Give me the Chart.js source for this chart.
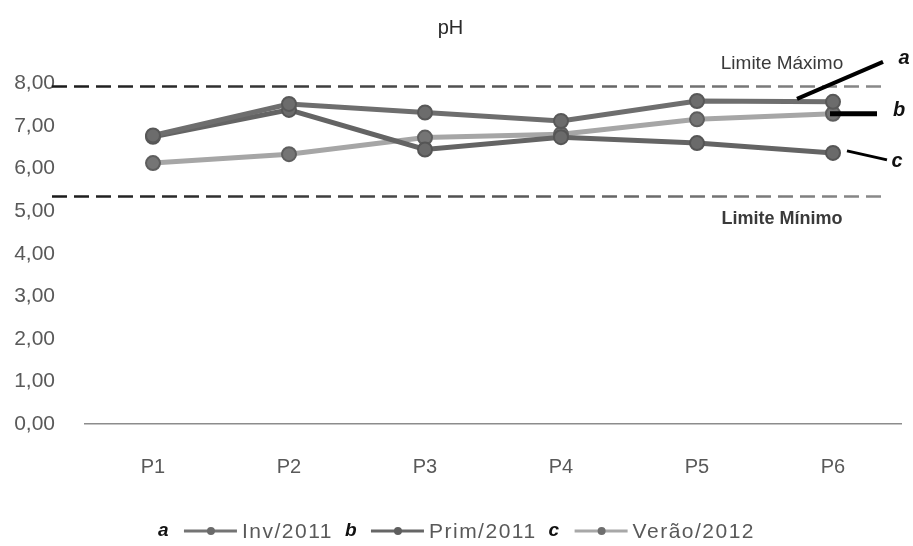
<!DOCTYPE html>
<html lang="pt">
<head>
  <meta charset="UTF-8">
  <title>pH</title>
  <script src="https://cdn.jsdelivr.net/npm/chart.js"></script>
  <style>
    body { margin: 0; background: #fff; }
    canvas { display: block; }
  </style>
</head>
<body>
  <canvas id="phChart" width="913" height="546"></canvas>

  <script>
    const pontos = ["P1", "P2", "P3", "P4", "P5", "P6"];
    const inv2011 = [6.78, 7.52, 7.32, 7.12, 7.59, 7.57];
    const prim2011 = [6.75, 7.38, 6.45, 6.74, 6.60, 6.37];
    const verao2012 = [6.13, 6.34, 6.73, 6.81, 7.16, 7.29];
    const seriesNames = ["Inv/2011", "Prim/2011", "Verão/2012"];
    const seriesLetters = ["a", "b", "c"];
    const yTicks = [0, 1, 2, 3, 4, 5, 6, 7, 8];
    const limiteMaximo = 7.95;
    const limiteMinimo = 5.35;

    const FONT = "'Liberation Sans', Arial, sans-serif";

    // dashed limit lines + their captions
    const limitsPlugin = {
      id: "limits",
      beforeDatasetsDraw(chart) {
        const ctx = chart.ctx;
        const y = chart.scales.y;
        const x = chart.scales.x;
        const x0 = 52, x1 = x.getPixelForValue(5) + 52;
        ctx.save();
        const grad = ctx.createLinearGradient(x0, 0, x1, 0);
        grad.addColorStop(0, "#1a1a1a");
        grad.addColorStop(1, "#8a8a8a");
        ctx.strokeStyle = grad;
        ctx.lineWidth = 2.5;
        ctx.setLineDash([15, 7]);
        [limiteMaximo, limiteMinimo].forEach(v => {
          const py = Math.round(y.getPixelForValue(v)) + 0.5;
          ctx.beginPath();
          ctx.moveTo(x0, py);
          ctx.lineTo(x1, py);
          ctx.stroke();
        });
        ctx.setLineDash([]);
        ctx.fillStyle = "#3a3a3a";
        ctx.textAlign = "center";
        ctx.textBaseline = "middle";
        const cx = x.getPixelForValue(5) - 51;
        ctx.font = "19px " + FONT;
        ctx.fillText("Limite Máximo", cx, y.getPixelForValue(limiteMaximo) - 22);
        ctx.font = "bold 18px " + FONT;
        ctx.fillText("Limite Mínimo", cx, y.getPixelForValue(limiteMinimo) + 23);
        ctx.restore();
      }
    };

    // a, b, c pointer labels and the bottom legend
    const notesPlugin = {
      id: "notes",
      afterDraw(chart) {
        const ctx = chart.ctx;
        const xs = chart.scales.x, ys = chart.scales.y;
        const px = xs.getPixelForValue(5);
        const yA = ys.getPixelForValue(inv2011[5]);
        const yB = ys.getPixelForValue(verao2012[5]);
        const yC = ys.getPixelForValue(prim2011[5]);
        ctx.save();
        ctx.strokeStyle = "#000";
        ctx.lineCap = "butt";
        ctx.lineWidth = 4;
        ctx.beginPath(); ctx.moveTo(px - 36, yA - 3); ctx.lineTo(px + 50, yA - 40); ctx.stroke();
        ctx.lineWidth = 5;
        ctx.beginPath(); ctx.moveTo(px - 3, yB); ctx.lineTo(px + 44, yB); ctx.stroke();
        ctx.lineWidth = 3;
        ctx.beginPath(); ctx.moveTo(px + 14, yC - 2); ctx.lineTo(px + 54, yC + 7); ctx.stroke();

        ctx.fillStyle = "#111";
        ctx.font = "italic bold 20px " + FONT;
        ctx.textAlign = "center";
        ctx.textBaseline = "middle";
        ctx.fillText("a", px + 71, yA - 43);
        ctx.fillText("b", px + 66, yB - 3);
        ctx.fillText("c", px + 64, yC + 9);

        // legend
        const ly = 531;
        const lineCols = ["#747474", "#666666", "#a8a8a8"];
        const dotCols = ["#6a6a6a", "#5e5e5e", "#6e6e6e"];
        ctx.font = "21px " + FONT;
        if ("letterSpacing" in ctx) ctx.letterSpacing = "1.5px";
        const widths = seriesNames.map(n => ctx.measureText(n).width);
        const item = i => 14 + 12 + 53 + 5 + widths[i];
        let total = 0;
        seriesNames.forEach((n, i) => total += item(i) + (i < 2 ? 12 : 0));
        let lx = chart.width / 2 - total / 2;
        seriesNames.forEach((name, i) => {
          ctx.font = "italic bold 19px " + FONT;
          ctx.textAlign = "left";
          ctx.fillStyle = "#111";
          ctx.fillText(seriesLetters[i], lx, ly);
          lx += 26;
          ctx.strokeStyle = lineCols[i];
          ctx.lineWidth = 3;
          ctx.beginPath(); ctx.moveTo(lx, ly); ctx.lineTo(lx + 53, ly); ctx.stroke();
          ctx.fillStyle = dotCols[i];
          ctx.beginPath(); ctx.arc(lx + 27, ly, 4, 0, Math.PI * 2); ctx.fill();
          lx += 58;
          ctx.font = "21px " + FONT;
          ctx.fillStyle = "#595959";
          ctx.fillText(name, lx, ly + 1);
          lx += widths[i] + 12;
        });
        ctx.restore();
      }
    };

    const ctx = document.getElementById("phChart").getContext("2d");
    new Chart(ctx, {
      type: "line",
      data: {
        labels: pontos,
        datasets: [
          { label: seriesNames[0], data: inv2011, borderColor: "#6e6e6e", backgroundColor: "#6c6c6c",
            pointBorderColor: "#585858", borderWidth: 5, pointRadius: 7, pointBorderWidth: 2 },
          { label: seriesNames[1], data: prim2011, borderColor: "#646464", backgroundColor: "#6a6a6a",
            pointBorderColor: "#555555", borderWidth: 5, pointRadius: 7, pointBorderWidth: 2 },
          { label: seriesNames[2], data: verao2012, borderColor: "#a6a6a6", backgroundColor: "#757575",
            pointBorderColor: "#5e5e5e", borderWidth: 5, pointRadius: 7, pointBorderWidth: 2 }
        ]
      },
      options: {
        responsive: false,
        animation: false,
        layout: { padding: { left: 0, right: 12, top: 0, bottom: 44 } },
        plugins: {
          legend: { display: false },
          tooltip: { enabled: false },
          title: {
            display: true,
            text: "pH",
            color: "#2a2a2a",
            font: { family: FONT, size: 20, weight: "normal" },
            padding: { top: 16, bottom: 18 }
          }
        },
        scales: {
          x: {
            offset: true,
            grid: { display: false },
            border: { display: true, color: "#8c8c8c", width: 1.5 },
            ticks: { color: "#595959", padding: 23, font: { family: FONT, size: 20 } }
          },
          y: {
            min: 0,
            max: 8.6,
            grid: { display: false },
            border: { display: false },
            afterBuildTicks: s => { s.ticks = yTicks.map(v => ({ value: v })); },
            afterFit: s => { s.width = 85; },
            ticks: {
              color: "#595959",
              padding: 22,
              font: { family: FONT, size: 21 },
              callback: v => v.toFixed(2).replace(".", ",")
            }
          }
        }
      },
      plugins: [limitsPlugin, notesPlugin]
    });
  </script>
</body>
</html>
